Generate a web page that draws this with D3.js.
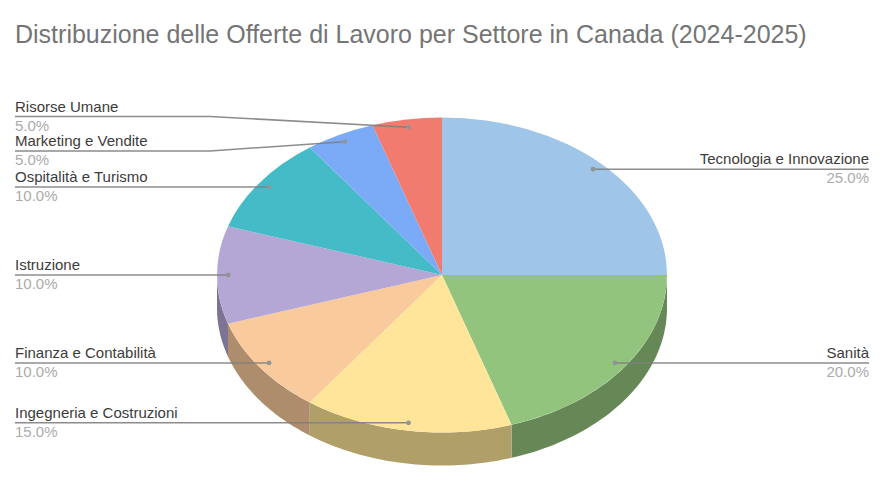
<!DOCTYPE html>
<html><head><meta charset="utf-8">
<script src="https://d3js.org/d3.v7.min.js"></script>
<style>html,body{margin:0;padding:0;background:#fff}svg{display:block}text{font-family:"Liberation Sans",Arial,sans-serif}</style>
</head><body><div id="c"></div>
<script>
const title = "Distribuzione delle Offerte di Lavoro per Settore in Canada (2024-2025)";
const categories = ["Tecnologia e Innovazione","Sanità","Ingegneria e Costruzioni","Finanza e Contabilità","Istruzione","Ospitalità e Turismo","Marketing e Vendite","Risorse Umane"];
const values = [25,20,15,10,10,10,5,5];
const colors = ["#9fc5e8","#93c47d","#ffe599","#f9cb9c","#b4a7d6","#45bbc8","#7baaf7","#f27b70"];

const W=889,H=501,cx=442,cy=275,rx=225,ry=157.5,depth=33;
const svg=d3.select("#c").append("svg").attr("width",W).attr("height",H);
svg.append("text").attr("x",15).attr("y",43).attr("font-size",25).attr("fill","#757575").text(title);

const total=d3.sum(values);
const arcs=d3.pie().sort(null).value((d,i)=>values[i])(values);
const arcGen=d3.arc().innerRadius(0).outerRadius(rx);
const yS=ry/rx;
const px=a=>cx+rx*Math.sin(a), py=a=>cy-ry*Math.cos(a);

// side wall: only the front half of the rim (angles PI/2 .. 3PI/2)
const wall=svg.append("g");
arcs.forEach((d,i)=>{
  const a0=Math.max(d.startAngle,Math.PI/2), a1=Math.min(d.endAngle,3*Math.PI/2);
  if(a1<=a0) return;
  const n=48, top=d3.range(n+1).map(k=>a0+(a1-a0)*k/n);
  const pts=top.map(a=>[px(a),py(a)]).concat(top.slice().reverse().map(a=>[px(a),py(a)+depth]));
  const c=d3.rgb(colors[i]);
  wall.append("path").attr("d",d3.line()(pts)+"Z").attr("fill",d3.rgb(c.r*.695,c.g*.695,c.b*.695));
});
// top face
svg.append("g").attr("transform",`translate(${cx},${cy}) scale(1,${yS})`)
  .selectAll("path").data(arcs).join("path").attr("d",arcGen).attr("fill",(d,i)=>colors[i]);

// leader lines and labels
const lineGap={6:151,7:116.5};
const leftEdge=15,rightEdge=869,elbowL=210,elbowR=700;
const g=svg.append("g");
arcs.forEach((d,i)=>{
  const mid=(d.startAngle+d.endAngle)/2, k=.95;
  const dx=cx+rx*k*Math.sin(mid), dy=cy-ry*k*Math.cos(mid);
  const right=mid<Math.PI;
  const ly=lineGap[i]!==undefined?lineGap[i]:dy;
  const ex=right?rightEdge:leftEdge, el=right?elbowR:elbowL;
  const bx=right?Math.max(el,dx):Math.min(el,dx);
  g.append("path").attr("d",d3.line()([[ex,ly],[bx,ly],[dx,dy]]))
    .attr("fill","none").attr("stroke","#808080").attr("stroke-width",1.5).attr("stroke-opacity",.9);
  g.append("circle").attr("cx",dx).attr("cy",dy).attr("r",2.4).attr("fill","#8f9699");
  const anchor=right?"end":"start";
  g.append("text").attr("x",ex).attr("y",ly-5).attr("text-anchor",anchor).attr("font-size",15).attr("fill","#3c3c3c").text(categories[i]);
  g.append("text").attr("x",ex).attr("y",ly+14).attr("text-anchor",anchor).attr("font-size",15).attr("fill","#ababab").text((values[i]/total*100).toFixed(1)+"%");
});
</script></body></html>
